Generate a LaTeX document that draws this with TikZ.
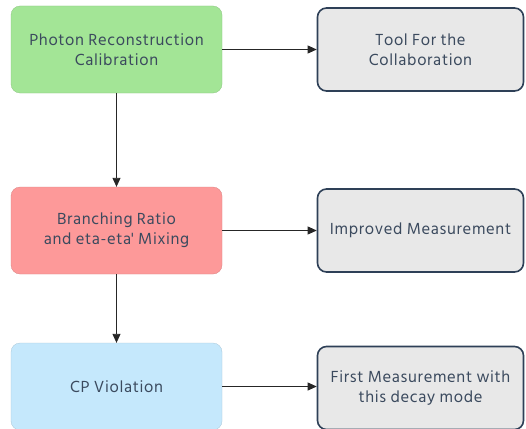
\documentclass[tikz,border=0pt]{standalone}
\usepackage{fontspec}
\setmainfont[LetterSpace=4]{Hind Siliguri}
\usetikzlibrary{arrows.meta}
\definecolor{txt}{HTML}{3B4A5E}
\definecolor{navy}{HTML}{2E4057}
\definecolor{gfill}{HTML}{A3E596}
\definecolor{rfill}{HTML}{FD9999}
\definecolor{bfill}{HTML}{C5E8FC}
\definecolor{grey}{HTML}{E8E8E8}
\begin{document}
\begin{tikzpicture}[x=1pt,y=-1pt,
  leftbox/.style={rounded corners=9pt, minimum width=211pt, minimum height=87pt, draw=#1!85!black, line width=0.3pt, fill=#1, text=txt, align=center, font=\fontsize{16.5}{20}\selectfont},
  rightbox/.style={rounded corners=9pt, minimum width=206pt, minimum height=83pt, draw=navy, line width=1.6pt, fill=grey, text=txt, align=center, font=\fontsize{16.5}{20}\selectfont},
  conn/.style={-{Triangle[length=9pt,width=8pt]}, line width=0.8pt, draw=black!85}]
\useasboundingbox (0,0) rectangle (526,428);
\begin{scope}
\clip (0,0) rectangle (526,428);
\node[leftbox=gfill] (a) at (116.5,49.5) {Photon Reconstruction\\Calibration};
\node[leftbox=rfill] (b) at (116.5,230.5) {Branching Ratio\\and eta-eta\textquotesingle{} Mixing};
\node[leftbox=bfill] (c) at (116.5,386.5) {CP Violation};
\node[rightbox] (d) at (420.5,49.5) {Tool For the\\Collaboration};
\node[rightbox] (e) at (420.5,230.5) {Improved Measurement};
\node[rightbox] (f) at (420.5,388) {First Measurement with\\this decay mode};
\end{scope}
\draw[conn] (a) -- (d);
\draw[conn] (b) -- (e);
\draw[conn] (c.east) -- (c.east -| f.west);
\draw[conn] (a) -- (b);
\draw[conn] (b) -- (c);
\end{tikzpicture}
\end{document}
